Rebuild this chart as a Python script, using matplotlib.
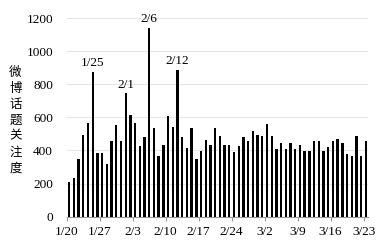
import datetime as dt
import matplotlib

matplotlib.use('Agg')
import matplotlib.pyplot as plt

# daily attention values, 2020-01-20 .. 2020-03-23
start = dt.date(2020, 1, 20)
values = [207, 235, 348, 493, 563, 874, 385, 385, 315, 458,
          552, 458, 744, 614, 566, 424, 482, 1142, 534, 366,
          434, 608, 542, 885, 480, 416, 536, 350, 396, 462,
          430, 536, 486, 430, 434, 392, 428, 480, 456, 516,
          492, 488, 562, 485, 406, 443, 406, 444, 406, 431,
          398, 398, 457, 457, 394, 419, 457, 468, 443, 380,
          367, 485, 364, 457]
peak_labels = ['1/25', '2/1', '2/6', '2/12']
y_ticks = [0, 200, 400, 600, 800, 1000, 1200]
ylabel = '微博话题关注度'

dates = [start + dt.timedelta(days=i) for i in range(len(values))]
labels = [f'{d.month}/{d.day}' for d in dates]

plt.rcParams['font.family'] = ['Liberation Serif', 'Noto Sans CJK SC']

fig = plt.figure(figsize=(3.84, 2.47), dpi=100)
ax = fig.add_axes([0.174, 0.123, 0.785, 0.804])

x = [i + 0.5 for i in range(len(values))]
ax.bar(x, values, width=0.5, color='black', zorder=3)

ax.set_xlim(0, len(values))
ax.set_ylim(0, 1200)
ax.set_yticks(y_ticks)
ax.set_yticklabels([str(v) for v in y_ticks], fontsize=9.5)
ax.tick_params(axis='y', length=0, pad=10)

xt = list(range(0, len(values), 7))
ax.set_xticks(xt)
ax.set_xticklabels([labels[i] for i in xt], fontsize=9.5)
ax.tick_params(axis='x', length=3, color='#999999', pad=4)

ax.grid(axis='y', color='#e6e6e6', linewidth=0.8, zorder=0)
for s in ['top', 'right', 'left']:
    ax.spines[s].set_visible(False)
ax.spines['bottom'].set_color('#999999')
ax.spines['bottom'].set_linewidth(0.8)

for lab in peak_labels:
    i = labels.index(lab)
    ax.annotate(lab, (x[i], values[i]), xytext=(0, 2), textcoords='offset points',
                ha='center', va='bottom', fontsize=9.5)

fig.text(0.04, 0.514, '\n'.join(ylabel), ha='center', va='center',
         fontsize=9, family='Noto Sans CJK SC', linespacing=1.3)

fig.savefig('out.png', dpi=100)
